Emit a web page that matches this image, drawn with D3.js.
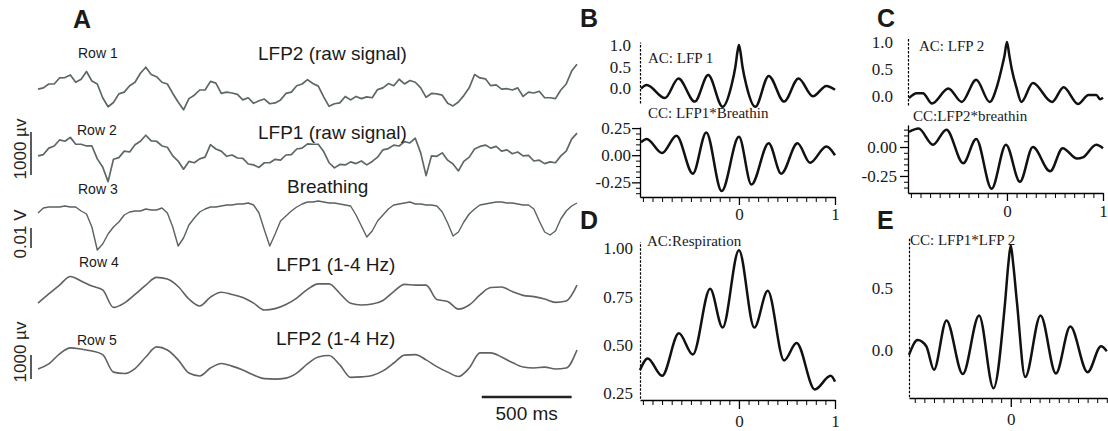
<!DOCTYPE html>
<html>
<head>
<meta charset="utf-8">
<script src="https://cdn.jsdelivr.net/npm/d3@7"></script>
<style>
body { margin: 0; background: #fff; }
svg { display: block; }
</style>
</head>
<body>
<svg id="fig" width="1108" height="431"></svg>
<script>
// ---- panel A : traces (raw rows + breathing every 30 ms, filtered rows every 60 ms)
var rawStepMs = 30, filtStepMs = 60;

var lfp2Raw = [20,50,140,140,280,290,350,180,250,430, 210,140,-180,-390,-290,-90,-50,100,180,390,
  530,360,310,180,140,-80,-280,-460,-200,-120, 0,0,200,160,-80,-50,-70,-100,-230,-180,
  -310,-250,-210,-320,-300,-230,-80,-50,100,140, 240,150,90,-160,-380,-320,-300,-150,-230,-150,
  -200,-160,-180,10,50,150,100,250,140,220, 180,50,-170,-80,-90,-120,-310,-370,-280,-130,
  50,360,280,260,100,120,20,30,0,50, -150,-50,-70,-30,-180,-180,-200,0,140,440, 600];

var lfp1Raw = [-20,10,160,210,350,320,410,250,250,210, 210,-90,-280,-620,-100,-60,90,70,240,320,
  460,330,320,210,180,-20,-140,-330,-150,-180, -90,-50,240,140,90,-30,0,-70,-80,-210,
  -230,-290,-180,-180,-100,-120,0,10,140,160, 260,250,250,80,-180,-300,-220,-230,-160,-200,
  -140,-230,-150,-50,120,150,230,210,310,280, 390,50,-480,-20,-30,50,-120,-210,-370,-150,
  -50,140,200,230,160,200,90,120,30,70, -20,-10,-140,-120,-200,-160,-180,-20,90,370, 510];

// breathing, mV
var breathing = [-4,-1.5,-1,-1,-1,-0.5,-1,-1,-3,-4.5, -11,-22.5,-19.5,-14.5,-11,-8.5,-5,-3.5,-3,-3,
  -2,-2.5,-2.5,-1.5,-4,-11,-20.5,-16.5,-10,-6.5, -3.5,-2,-1,-1,-0.5,0,0,0.5,0.5,1,
  0,-4,-12.5,-20.5,-14.5,-8,-5.5,-3,-1,0.5, 1.5,1.5,2,1.5,1,1,0.5,0,-0.5,-5,
  -10.5,-16,-13,-8,-5,-2,0,0.5,1,1.5, 0.5,0.5,0,0,-0.5,-3.5,-9,-15.5,-13.5,-8.5,
  -4.5,-2,0,0.5,1,1.5,1.5,1,1,0.5, 0,0,-2,-8,-13.5,-15,-13,-7,-3,-0.5, 1];

var lfp1Filt = [-420,-40,330,690,500,290,130,-600,-420,-60, 330,650,580,270,-250,-540,-170,30,-60,-190,
  -420,-710,-650,-480,-210,150,380,380,-20,-430, -500,-460,-310,60,360,330,330,-270,-350,-670,
  -500,-80,230,250,60,-100,-150,-250,-390,-330, 330];

var lfp2Filt = [-250,-40,380,630,580,500,350,-380,-440,-230, 250,670,540,130,-420,-540,-210,-20,-130,-290,
  -500,-650,-670,-630,-420,-40,250,310,-80,-600, -580,-520,-330,0,330,350,130,-150,-380,-560,
  -210,420,420,250,20,-170,-210,-170,-250,-210, 540];

// ---- panels B-E : correlograms (lag in s)
var acLfp1Lag = [-1.02,-0.96,-0.77,-0.63,-0.46,-0.32,-0.17,-0.08,-0.037,-0.015,0,0.015,0.037,0.08,0.17,0.31,0.47,0.62,0.77,0.91,1.0];
var acLfp1    = [0.0,0.08,-0.22,0.23,-0.30,0.31,-0.42,0.05,0.5,0.85,1.0,0.85,0.5,0.05,-0.42,0.29,-0.30,0.23,-0.18,0.06,-0.03];

var ccLfp1BrLag = [-1.02,-0.96,-0.80,-0.65,-0.48,-0.34,-0.18,0,0.13,0.31,0.44,0.61,0.74,0.91,1.0];
var ccLfp1Br    = [0.12,0.15,0.02,0.18,-0.17,0.21,-0.33,0.17,-0.27,0.11,-0.17,0.11,-0.07,0.08,0.0];

var acLfp2Lag = [-1.02,-0.94,-0.875,-0.78,-0.61,-0.47,-0.32,-0.18,-0.1,-0.05,-0.025,0,0.025,0.05,0.1,0.15,0.27,0.47,0.59,0.74,0.85,0.93,0.97,1.0];
var acLfp2    = [-0.04,0.05,0.05,-0.14,0.14,-0.11,0.30,-0.11,0.2,0.55,0.75,1.0,0.75,0.5,0.15,-0.11,0.24,-0.11,0.16,-0.15,0.02,0.02,-0.06,-0.03];

var ccLfp2BrLag = [-1.02,-0.92,-0.77,-0.63,-0.455,-0.32,-0.16,-0.01,0.135,0.27,0.45,0.58,0.73,0.79,0.93,1.0];
var ccLfp2Br    = [0.13,0.16,0.02,0.15,-0.14,0.07,-0.36,0.02,-0.30,0.0,-0.21,-0.01,-0.10,-0.09,0.02,-0.01];

var acRespLag = [-1.03,-0.95,-0.80,-0.625,-0.48,-0.30,-0.17,0,0.16,0.30,0.47,0.60,0.79,0.955,1.0];
var acResp    = [0.37,0.43,0.34,0.56,0.45,0.79,0.59,0.99,0.59,0.78,0.42,0.51,0.27,0.34,0.31];

var ccLfpLag = [-1.06,-0.97,-0.88,-0.80,-0.67,-0.50,-0.33,-0.18,-0.06,-0.025,0,0.025,0.065,0.15,0.31,0.47,0.62,0.80,0.94,1.0];
var ccLfp    = [-0.04,0.08,0.03,-0.16,0.24,-0.195,0.28,-0.31,0.38,0.70,0.85,0.70,0.38,-0.22,0.28,-0.19,0.19,-0.18,0.03,-0.01];

var svg = d3.select("#fig");
var sans = "'Liberation Sans', Arial, Helvetica, sans-serif";
var serif = "'Liberation Serif', 'Times New Roman', serif";
var ink = "#1a1a1a";
var tickFont = 17, noteFont = 15;

function text(x, y, s, size, family, anchor, weight) {
  return svg.append("text")
    .attr("x", x).attr("y", y)
    .attr("font-family", family).attr("font-size", size)
    .attr("font-weight", weight || "normal")
    .attr("text-anchor", anchor || "start")
    .attr("fill", ink)
    .text(s);
}

// ---------- panel A
var t = d3.scaleLinear().domain([0, 3000]).range([38, 577]);

// value -> pixel, per row (center, unit, pixels per unit)
function rowScale(center, unit, px) {
  return d3.scaleLinear().domain([0, unit]).range([center, center - px]);
}
var yRow1 = rowScale(90, 1000, 43);
var yRow2 = rowScale(155, 1000, 43);
var yRow3 = rowScale(205, 10, 20);
var yRow4 = rowScale(293, 1000, 24);
var yRow5 = rowScale(363, 1000, 24);

var rows = [
  {vals: lfp2Raw, step: rawStepMs, y: yRow1, w: 1.7, c: "#5d6767", curve: d3.curveLinear},
  {vals: lfp1Raw, step: rawStepMs, y: yRow2, w: 1.7, c: "#5d6767", curve: d3.curveLinear},
  {vals: breathing, step: rawStepMs, y: yRow3, w: 1.4, c: "#5a6262", curve: d3.curveLinear},
  {vals: lfp1Filt, step: filtStepMs, y: yRow4, w: 1.6, c: "#5e6262", curve: d3.curveMonotoneX},
  {vals: lfp2Filt, step: filtStepMs, y: yRow5, w: 1.6, c: "#5e6262", curve: d3.curveMonotoneX}
];

rows.forEach(function(r) {
  svg.append("path").datum(r.vals)
    .attr("fill", "none")
    .attr("stroke", r.c)
    .attr("stroke-width", r.w)
    .attr("stroke-linejoin", "round")
    .attr("d", d3.line()
      .x(function(d, i) { return t(i * r.step); })
      .y(function(d) { return r.y(d); })
      .curve(r.curve));
});

text(73, 28, "A", 25, sans, "start", "bold");

text(78, 58, "Row 1", 14, sans);
text(77, 135, "Row 2", 14, sans);
text(78, 194, "Row 3", 14, sans);
text(79, 267, "Row 4", 14, sans);
text(77, 345, "Row 5", 14, sans);

text(258, 60, "LFP2 (raw signal)", 19, sans);
text(258, 139, "LFP1 (raw signal)", 19, sans);
text(287, 193, "Breathing", 19, sans);
text(276, 271, "LFP1 (1-4 Hz)", 19, sans);
text(276, 345, "LFP2 (1-4 Hz)", 19, sans);

// vertical scale bars
function vbar(x, yBottom, y, unit) {
  var len = y(0) - y(unit);
  svg.append("line")
    .attr("x1", x).attr("x2", x)
    .attr("y1", yBottom).attr("y2", yBottom - len)
    .attr("stroke", "#333").attr("stroke-width", 1.6);
}
function vlabel(x, y, s) {
  svg.append("text")
    .attr("transform", "translate(" + x + "," + y + ") rotate(-90)")
    .attr("font-family", sans).attr("font-size", 17)
    .attr("text-anchor", "middle").attr("fill", "#222")
    .text(s);
}
vbar(31, 175, yRow1, 1000);
vlabel(26, 149, "1000 µv");
vbar(31, 248, yRow3, 10);
vlabel(26, 234, "0.01 V");
vbar(31, 379, yRow5, 1000);
vlabel(26, 352, "1000 µv");

// time scale bar
svg.append("line")
  .attr("x1", t(2470)).attr("x2", t(2970))
  .attr("y1", 397).attr("y2", 397)
  .attr("stroke", "#222").attr("stroke-width", 2.5);
text((t(2470) + t(2970)) / 2, 420, "500 ms", 19, sans, "middle");

// ---------- panels B-E
function fmt(n) { return function(d) { return d.toFixed(n); }; }
function steps(a, b, s) {
  return d3.range(Math.round((b - a) / s) + 1).map(function(i) { return +(a + i * s).toFixed(3); });
}

function corr(o) {
  var x = d3.scaleLinear().domain(o.xDomain).range(o.xRange);
  var y = d3.scaleLinear().domain(o.yDomain).range(o.yRange);
  var g = svg.append("g");

  var yAxis = d3.axisLeft(y).tickValues(o.yTicks).tickFormat(fmt(o.dec)).tickSizeOuter(0)
    .tickSizeInner(o.dashed ? 0 : 8).tickPadding(o.pad);
  var ga = g.append("g").attr("transform", "translate(" + o.xRange[0] + ",0)").call(yAxis);
  ga.select(".domain").attr("stroke", "#000").attr("stroke-width", o.dashed ? 1.2 : 1.3)
    .attr("stroke-dasharray", o.dashed ? "2.5,1.5" : null);
  ga.selectAll("line").attr("stroke-width", 1.3);
  ga.selectAll("text").attr("font-family", serif).attr("font-size", tickFont).attr("fill", ink);

  if (o.yMinor) {
    var minorY = o.yMinor.filter(function(v) { return o.yTicks.indexOf(v) < 0; });
    g.append("g").attr("transform", "translate(" + o.xRange[0] + ",0)")
      .call(d3.axisLeft(y).tickValues(minorY).tickFormat("").tickSizeOuter(0).tickSizeInner(4))
      .select(".domain").remove();
  }

  if (o.xAxisY) {
    var minorX = steps(-1, 1, 0.1).filter(function(v) { return o.xTicks.indexOf(v) < 0; });
    var gx = g.append("g").attr("transform", "translate(0," + o.xAxisY + ")")
      .call(d3.axisBottom(x).tickValues(o.xTicks).tickFormat(d3.format("d"))
        .tickSizeOuter(0).tickSizeInner(o.xTick).tickPadding(o.xPad));
    gx.select(".domain").attr("stroke", "#000").attr("stroke-width", 1.3);
    gx.selectAll("line").attr("stroke-width", 1.3);
    gx.selectAll("text").attr("font-family", serif).attr("font-size", tickFont).attr("fill", ink);
    g.append("g").attr("transform", "translate(0," + o.xAxisY + ")")
      .call(d3.axisBottom(x).tickValues(minorX).tickFormat("").tickSizeOuter(0).tickSizeInner(5))
      .select(".domain").remove();
  }

  g.append("path").datum(d3.zip(o.lag, o.val))
    .attr("fill", "none").attr("stroke", "#111").attr("stroke-width", 2.5)
    .attr("stroke-linejoin", "round")
    .attr("d", d3.line()
      .x(function(d) { return x(d[0]); })
      .y(function(d) { return y(d[1]); })
      .curve(d3.curveMonotoneX));

  text(o.labelX, o.labelY, o.label, noteFont, serif);
}

// B
corr({lag: acLfp1Lag, val: acLfp1, xDomain: [-1.03, 1.0], xRange: [640, 835],
  yDomain: [-0.333, 1.07], yRange: [103, 42], yTicks: [0, 0.5, 1], dec: 1, dashed: true, pad: 9,
  label: "AC: LFP 1", labelX: 648, labelY: 63});
corr({lag: ccLfp1BrLag, val: ccLfp1Br, xDomain: [-1.03, 1.0], xRange: [640, 835],
  yDomain: [-0.385, 0.26], yRange: [197, 127], yTicks: [-0.25, 0, 0.25], dec: 2, pad: 1,
  yMinor: steps(-0.35, 0.25, 0.05),
  xAxisY: 197, xTicks: [0, 1], xTick: 8, xPad: 3,
  label: "CC: LFP1*Breathin", labelX: 648, labelY: 118});

// C
corr({lag: acLfp2Lag, val: acLfp2, xDomain: [-1.03, 1.0], xRange: [908, 1103],
  yDomain: [-0.167, 1.093], yRange: [105, 37], yTicks: [0, 0.5, 1], dec: 1, dashed: true, pad: 15,
  label: "AC: LFP 2", labelX: 919, labelY: 51});
corr({lag: ccLfp2BrLag, val: ccLfp2Br, xDomain: [-1.03, 1.0], xRange: [908, 1103],
  yDomain: [-0.397, 0.19], yRange: [193, 125], yTicks: [-0.25, 0], dec: 2, pad: 3,
  yMinor: steps(-0.35, 0.15, 0.05),
  xAxisY: 193, xTicks: [0, 1], xTick: 8, xPad: 4,
  label: "CC:LFP2*breathin", labelX: 913, labelY: 121});

// D
corr({lag: acRespLag, val: acResp, xDomain: [-1.03, 1.0], xRange: [640, 835],
  yDomain: [0.224, 1.034], yRange: [398.3, 241.7], yTicks: [0.25, 0.5, 0.75, 1.0], dec: 2, dashed: true, pad: 7,
  xAxisY: 400, xTicks: [0, 1], xTick: 9, xPad: 6,
  label: "AC:Respiration", labelX: 647, labelY: 246});

// E
corr({lag: ccLfpLag, val: ccLfp, xDomain: [-1.06, 1.0], xRange: [909, 1106.8],
  yDomain: [-0.379, 0.919], yRange: [396.7, 236.7], yTicks: [0, 0.5], dec: 1, dashed: true, pad: 16,
  xAxisY: 398, xTicks: [0], xTick: 9, xPad: 6,
  label: "CC: LFP1*LFP 2", labelX: 910, labelY: 245});

text(580, 27, "B", 25, sans, "start", "bold");
text(877, 27, "C", 25, sans, "start", "bold");
text(580, 229, "D", 25, sans, "start", "bold");
text(877, 229, "E", 25, sans, "start", "bold");
</script>
</body>
</html>
